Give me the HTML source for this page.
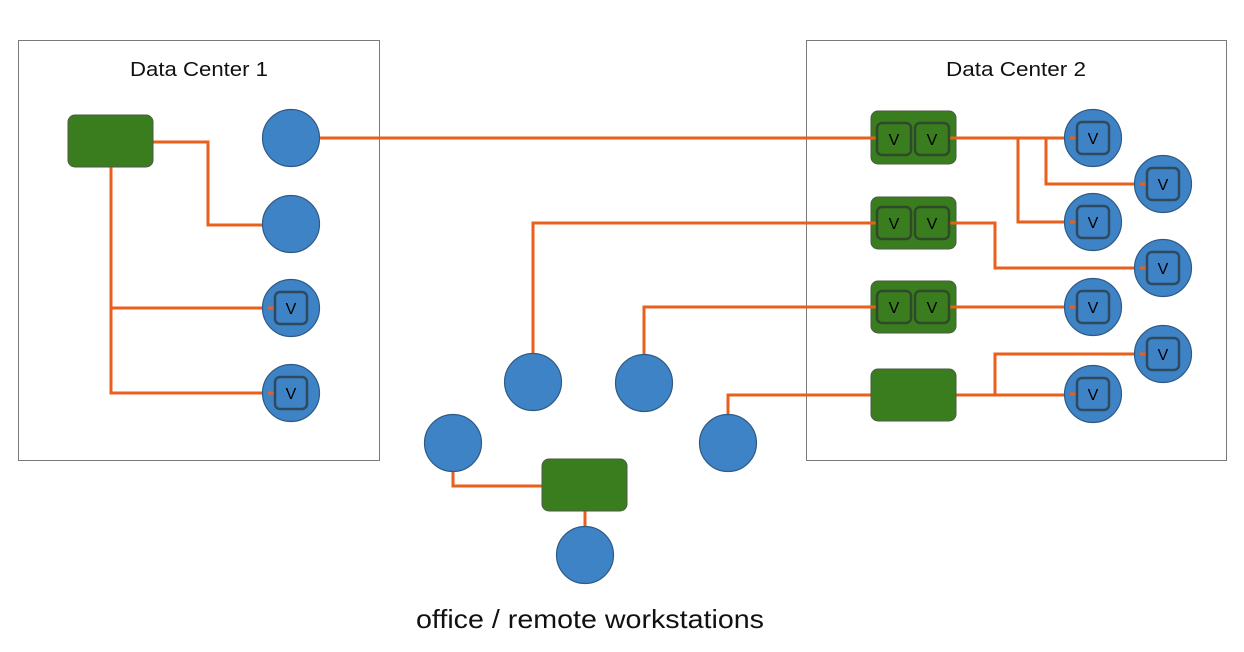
<!DOCTYPE html>
<html><head><meta charset="utf-8"><style>html,body{margin:0;padding:0;background:#fff}svg{display:block}</style></head>
<body>
<svg width="1244" height="652" viewBox="0 0 1244 652" xmlns="http://www.w3.org/2000/svg" font-family="Liberation Sans, sans-serif">
<defs>
<g id="vb"><rect x="-16" y="-16" width="32" height="32" rx="5" fill="none" stroke="#2f4a5e" stroke-width="2.5"/><text x="0" y="6" text-anchor="middle" font-size="16" fill="#000">V</text></g>
<g id="vg"><rect x="-17" y="-16" width="34" height="32" rx="5" fill="none" stroke="#2e4a2a" stroke-width="2.5"/><text x="0" y="6" text-anchor="middle" font-size="16" fill="#000">V</text></g>
</defs>
<rect x="18.5" y="40.5" width="361" height="420" fill="#fff" stroke="#7a7a7a" stroke-width="1"/>
<rect x="806.5" y="40.5" width="420" height="420" fill="#fff" stroke="#7a7a7a" stroke-width="1"/>
<text x="199" y="76" text-anchor="middle" font-size="20" fill="#111" textLength="138" lengthAdjust="spacingAndGlyphs">Data Center 1</text>
<text x="1016" y="76" text-anchor="middle" font-size="20" fill="#111" textLength="140" lengthAdjust="spacingAndGlyphs">Data Center 2</text>
<text x="590" y="628" text-anchor="middle" font-size="26" fill="#111" textLength="348" lengthAdjust="spacingAndGlyphs">office / remote workstations</text>
<g fill="none" stroke="#e8601c" stroke-width="3">
<polyline points="153,142 208,142 208,225 265,225"/>
<polyline points="111,167 111,393 275,393"/>
<polyline points="111,308 275,308"/>
<polyline points="319,138 878,138"/>
<polyline points="948,138 1077,138"/>
<polyline points="1018,138 1018,222 1077,222"/>
<polyline points="1046,138 1046,184 1147,184"/>
<polyline points="948,223 995,223 995,268 1147,268"/>
<polyline points="948,307 1077,307"/>
<polyline points="956,395 1077,395"/>
<polyline points="995,395 995,354 1147,354"/>
<polyline points="878,223 533,223 533,356"/>
<polyline points="878,307 644,307 644,357"/>
<polyline points="871,395 728,395 728,417"/>
<polyline points="453,471 453,486 542,486"/>
<polyline points="585,511 585,528"/>
</g>
<g fill="#3a7d1e" stroke="#4a5a44" stroke-width="1">
<rect x="68" y="115" width="85" height="52" rx="7"/>
<rect x="871" y="111" width="85" height="53" rx="7"/>
<rect x="871" y="197" width="85" height="52" rx="7"/>
<rect x="871" y="281" width="85" height="52" rx="7"/>
<rect x="871" y="369" width="85" height="52" rx="7"/>
<rect x="542" y="459" width="85" height="52" rx="7"/>
</g>
<g stroke="#e8601c" stroke-width="3">
<line x1="870" y1="138" x2="878" y2="138"/><line x1="948" y1="138" x2="957" y2="138"/>
<line x1="870" y1="223" x2="878" y2="223"/><line x1="948" y1="223" x2="957" y2="223"/>
<line x1="870" y1="307" x2="878" y2="307"/><line x1="948" y1="307" x2="957" y2="307"/>
</g>
<g fill="#3f83c7" stroke="#2f5a85" stroke-width="1.2">
<circle cx="291" cy="138" r="28.5"/><circle cx="291" cy="224" r="28.5"/>
<circle cx="291" cy="308" r="28.5"/><circle cx="291" cy="393" r="28.5"/>
<circle cx="1093" cy="138" r="28.5"/><circle cx="1163" cy="184" r="28.5"/>
<circle cx="1093" cy="222" r="28.5"/><circle cx="1163" cy="268" r="28.5"/>
<circle cx="1093" cy="307" r="28.5"/><circle cx="1163" cy="354" r="28.5"/>
<circle cx="1093" cy="394" r="28.5"/>
<circle cx="533" cy="382" r="28.5"/><circle cx="644" cy="383" r="28.5"/>
<circle cx="453" cy="443" r="28.5"/><circle cx="728" cy="443" r="28.5"/>
<circle cx="585" cy="555" r="28.5"/>
</g>
<g stroke="#e8601c" stroke-width="3">
<line x1="268" y1="308" x2="276" y2="308"/><line x1="268" y1="393" x2="276" y2="393"/>
<line x1="1070" y1="138" x2="1078" y2="138"/><line x1="1070" y1="222" x2="1078" y2="222"/>
<line x1="1070" y1="307" x2="1078" y2="307"/><line x1="1070" y1="394" x2="1078" y2="394"/>
<line x1="1140" y1="184" x2="1148" y2="184"/><line x1="1140" y1="268" x2="1148" y2="268"/>
<line x1="1140" y1="354" x2="1148" y2="354"/>
</g>
<use href="#vb" x="291" y="308"/><use href="#vb" x="291" y="393"/>
<use href="#vb" x="1093" y="138"/><use href="#vb" x="1163" y="184"/>
<use href="#vb" x="1093" y="222"/><use href="#vb" x="1163" y="268"/>
<use href="#vb" x="1093" y="307"/><use href="#vb" x="1163" y="354"/>
<use href="#vb" x="1093" y="394"/>
<use href="#vg" x="894" y="139"/><use href="#vg" x="932" y="139"/>
<use href="#vg" x="894" y="223"/><use href="#vg" x="932" y="223"/>
<use href="#vg" x="894" y="307"/><use href="#vg" x="932" y="307"/>
</svg>
</body></html>
